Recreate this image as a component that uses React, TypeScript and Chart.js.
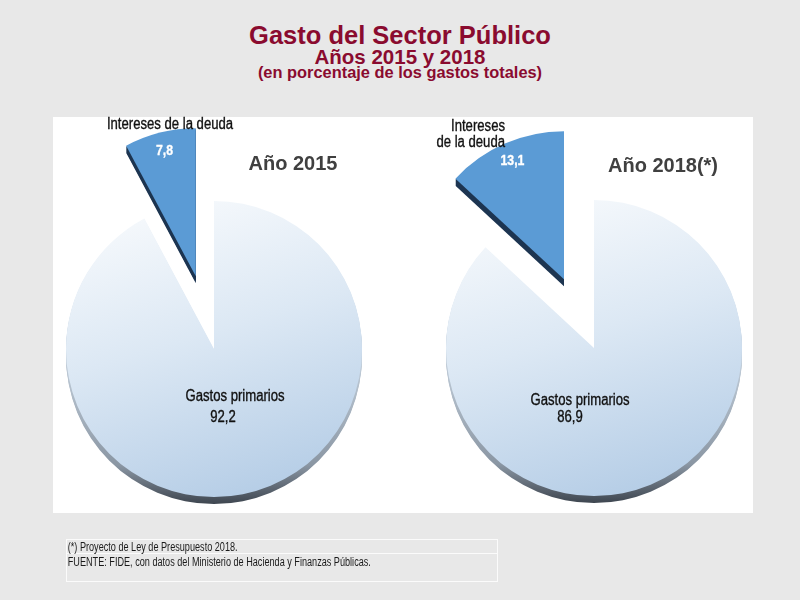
import { useEffect, useRef } from "react";
import { Chart, ArcElement, PieController } from "chart.js";

// Chart data
const categories = ["Gastos primarios", "Intereses de la deuda"];
const years = ["Año 2015", "Año 2018(*)"];
const shares2015 = [92.2, 7.8];
const shares2018 = [86.9, 13.1];

const TITLE = "Gasto del Sector Público";
const SUBTITLE = "Años 2015 y 2018";
const UNITS = "(en porcentaje de los gastos totales)";
const NOTES = [
  "(*) Proyecto de Ley de Presupuesto 2018.",
  "FUENTE: FIDE, con datos del Ministerio de Hacienda y Finanzas Públicas.",
];

const SANS = '"Liberation Sans", Arial, Helvetica, sans-serif';
const NARROW_SCALE = 0.82; // condensed look, drawn from the regular face
const PIE_RADIUS = 148;
const DEPTH = 7;
const EXPLODE = 75;
const CANVAS_W = 340;
const CANVAS_H = 480;

// Arc drawn as a raised wedge: a darker extruded side below the top face,
// and the whole slice pushed out along its middle angle by `offset` pixels.
class RaisedArc extends ArcElement {
  static id = "raisedArc";
  static defaults = { ...ArcElement.defaults };

  draw(ctx: CanvasRenderingContext2D) {
    const { x, y, startAngle, endAngle, outerRadius } = this as any;
    const o: any = this.options;
    const mid = (startAngle + endAngle) / 2;
    const shift = o.offset || 0;
    ctx.save();
    ctx.translate(Math.cos(mid) * shift, Math.sin(mid) * shift);
    const wedge = (dy: number) => {
      ctx.beginPath();
      ctx.moveTo(x, y + dy);
      ctx.arc(x, y + dy, outerRadius, startAngle, endAngle);
      ctx.closePath();
    };
    ctx.fillStyle = o.borderColor;
    for (let d = DEPTH; d >= 1; d--) {
      wedge(d);
      ctx.fill();
    }
    wedge(0);
    ctx.fillStyle = o.backgroundColor;
    ctx.fill();
    ctx.restore();
  }
}

class RaisedPieController extends PieController {
  static id = "raisedPie";
  static defaults = { ...PieController.defaults, dataElementType: "raisedArc" };
}

Chart.register(ArcElement, PieController, RaisedArc, RaisedPieController);

const fmt = (v: number) => v.toFixed(1).replace(".", ",");

function narrowText(ctx: CanvasRenderingContext2D, text: string, x: number, y: number, align: CanvasTextAlign) {
  ctx.save();
  ctx.translate(x, y);
  ctx.scale(NARROW_SCALE, 1);
  ctx.textAlign = align;
  ctx.fillText(text, 0, 0);
  ctx.lineWidth = 0.35;
  ctx.strokeStyle = ctx.fillStyle;
  ctx.strokeText(text, 0, 0);
  ctx.restore();
}

type Layout = {
  name: [number, number];
  value: [number, number];
  minorName: [number, number];
  minorAlign: CanvasTextAlign;
  wrapAfter?: number;
};

const sliceLabels = (layout: Layout) => ({
  id: "sliceLabels",
  afterDatasetsDraw(chart: any) {
    const ctx: CanvasRenderingContext2D = chart.ctx;
    const meta = chart.getDatasetMeta(0);
    const values = chart.data.datasets[0].data as number[];
    const names = chart.data.labels as string[];
    const main: any = meta.data[0];
    const minor: any = meta.data[1];
    ctx.save();
    ctx.textBaseline = "middle";

    // main slice: name and value
    ctx.font = `16px ${SANS}`;
    ctx.fillStyle = "#111";
    narrowText(ctx, names[0], main.x + layout.name[0], main.y + layout.name[1], "center");
    narrowText(ctx, fmt(values[0]), main.x + layout.value[0], main.y + layout.value[1], "center");

    // exploded slice: value inside, name above
    const mid = (minor.startAngle + minor.endAngle) / 2;
    const shift = minor.options.offset || 0;
    const ax = minor.x + Math.cos(mid) * shift;
    const ay = minor.y + Math.sin(mid) * shift;
    const r = minor.outerRadius * 0.87;
    ctx.fillStyle = "#fff";
    ctx.font = `bold 15px ${SANS}`;
    narrowText(ctx, fmt(values[1]), ax + Math.cos(mid) * r, ay + Math.sin(mid) * r, "center");

    ctx.fillStyle = "#111";
    ctx.font = `16px ${SANS}`;
    const words = names[1].split(" ");
    const lines = layout.wrapAfter
      ? [words.slice(0, layout.wrapAfter).join(" "), words.slice(layout.wrapAfter).join(" ")]
      : [names[1]];
    lines.forEach((line, i) => {
      narrowText(ctx, line, main.x + layout.minorName[0], main.y + layout.minorName[1] + i * 16, layout.minorAlign);
    });
    ctx.restore();
  },
});

function PieCanvas({ values, cx, cy, layout }: { values: number[]; cx: number; cy: number; layout: Layout }) {
  const ref = useRef<HTMLCanvasElement>(null);
  useEffect(() => {
    const chart = new Chart(ref.current!, {
      type: "raisedPie" as any,
      data: {
        labels: categories,
        datasets: [
          {
            data: values,
            radius: PIE_RADIUS,
            offset: [0, EXPLODE],
            borderWidth: 0,
            backgroundColor: (c: any) => {
              const area = c.chart.chartArea;
              if (c.dataIndex === 1) return "#5b9bd5";
              if (!area) return "#d4e3f2";
              const x0 = (area.left + area.right) / 2;
              const y0 = (area.top + area.bottom) / 2;
              const g = c.chart.ctx.createLinearGradient(x0 - 50, y0 - PIE_RADIUS, x0 + 40, y0 + PIE_RADIUS);
              g.addColorStop(0, "#f6f9fc");
              g.addColorStop(0.45, "#dce8f4");
              g.addColorStop(1, "#b5cde6");
              return g;
            },
            borderColor: (c: any) => {
              const area = c.chart.chartArea;
              if (c.dataIndex === 1) return "#1d3551";
              if (!area) return "#55606c";
              const y0 = (area.top + area.bottom) / 2;
              const g = c.chart.ctx.createLinearGradient(0, y0, 0, y0 + PIE_RADIUS + DEPTH);
              g.addColorStop(0, "#c8d4e0");
              g.addColorStop(0.75, "#8a96a3");
              g.addColorStop(1, "#3e4650");
              return g;
            },
          } as any,
        ],
      },
      options: {
        responsive: false,
        maintainAspectRatio: false,
        animation: false,
        events: [],
        layout: { padding: 0 },
        plugins: { legend: { display: false }, tooltip: { enabled: false } } as any,
      },
      plugins: [sliceLabels(layout)],
    });
    return () => chart.destroy();
  }, []);
  return (
    <canvas
      ref={ref}
      width={CANVAS_W}
      height={CANVAS_H}
      style={{ position: "absolute", left: cx - CANVAS_W / 2, top: cy - CANVAS_H / 2 }}
    />
  );
}

function Text({ x, y, size, children, style }: any) {
  return (
    <div
      style={{
        position: "absolute",
        left: x - 300,
        width: 600,
        top: y - size / 2,
        lineHeight: `${size}px`,
        fontSize: size,
        textAlign: "center",
        whiteSpace: "nowrap",
        fontFamily: SANS,
        fontWeight: "bold",
        ...style,
      }}
    >
      {children}
    </div>
  );
}

const noteLine: any = {
  transform: "scaleX(0.76)",
  transformOrigin: "left center",
  whiteSpace: "nowrap",
  paddingLeft: 1,
};

export default function App() {
  return (
    <div style={{ position: "absolute", left: 0, top: 0, width: 800, height: 600, background: "#e8e8e8", overflow: "hidden" }}>
      <Text x={400} y={36} size={25.5} style={{ color: "#8a0b2f" }}>{TITLE}</Text>
      <Text x={400} y={57} size={20.5} style={{ color: "#8a0b2f" }}>{SUBTITLE}</Text>
      <Text x={400} y={72} size={16.4} style={{ color: "#8a0b2f" }}>{UNITS}</Text>

      <div style={{ position: "absolute", left: 53, top: 117, width: 700, height: 396, background: "#ffffff" }} />

      <PieCanvas
        values={shares2015}
        cx={214}
        cy={349}
        layout={{ name: [21, 48], value: [9, 69], minorName: [-44, -224], minorAlign: "center" }}
      />
      <PieCanvas
        values={shares2018}
        cx={594}
        cy={348}
        layout={{ name: [-14, 53], value: [-24, 70], minorName: [-89, -221], minorAlign: "right", wrapAfter: 1 }}
      />

      <Text x={293} y={163} size={20} style={{ color: "#404040" }}>{years[0]}</Text>
      <Text x={663} y={165} size={20} style={{ color: "#404040" }}>{years[1]}</Text>

      <div
        style={{
          position: "absolute",
          left: 66,
          top: 539,
          width: 430,
          height: 41,
          border: "1px solid #fbfbfb",
          fontFamily: SANS,
          fontSize: 12,
          color: "#1a1a1a",
        }}
      >
        <div style={{ height: 13, lineHeight: "15px", borderBottom: "1px solid #fbfbfb" }}>
          <div style={noteLine}>{NOTES[0]}</div>
        </div>
        <div style={{ lineHeight: "16px" }}>
          <div style={noteLine}>{NOTES[1]}</div>
        </div>
      </div>
    </div>
  );
}
